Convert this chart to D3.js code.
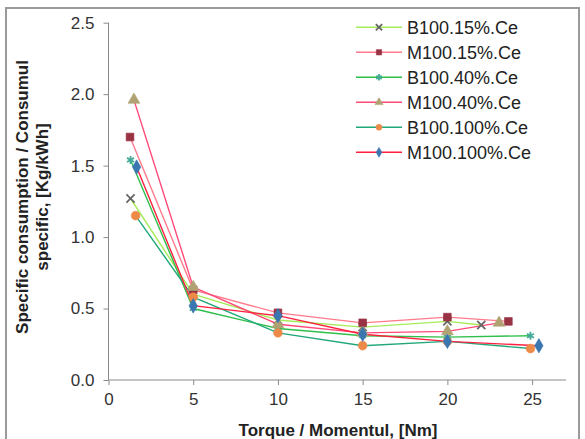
<!DOCTYPE html>
<html>
<head>
<meta charset="utf-8">
<script src="https://cdn.jsdelivr.net/npm/d3@7"></script>
<style>
  body { margin: 0; background: #fff; }
  text { font-family: "Liberation Sans", Arial, sans-serif; fill: #222; }
  .axis path, .axis line { stroke: #8a8a8a; }
  .axis text { font-size: 17px; fill: #333; }
  .title { font-weight: bold; font-size: 17px; }
  .legend text { font-size: 18px; }
</style>
</head>
<body>
<script>
// Series names and values (torque in Nm, specific consumption in Kg/kWh)
var names = ["B100.15%.Ce", "M100.15%.Ce", "B100.40%.Ce", "M100.40%.Ce", "B100.100%.Ce", "M100.100%.Ce"];

var torqueB15 = [1.3, 5, 10, 15, 20, 22.0];
var consB15 = [1.27, 0.60, 0.42, 0.37, 0.41, 0.385];

var torqueM15 = [1.27, 5, 10, 15, 20, 23.6];
var consM15 = [1.70, 0.63, 0.47, 0.40, 0.44, 0.41];

var torqueB40 = [1.3, 5, 10, 15, 20, 24.9];
var consB40 = [1.54, 0.50, 0.36, 0.31, 0.30, 0.31];

var torqueM40 = [1.5, 5, 10, 15, 20, 23.05];
var consM40 = [1.96, 0.65, 0.39, 0.33, 0.34, 0.40];

var torqueB100 = [1.6, 5, 10, 15, 20, 24.9];
var consB100 = [1.15, 0.58, 0.33, 0.24, 0.27, 0.22];

var torqueM100 = [1.66, 5, 10, 15, 20, 25.4];
var consM100 = [1.49, 0.52, 0.45, 0.32, 0.27, 0.24];

var xTicks = [0, 5, 10, 15, 20, 25];
var yTicks = [0, 0.5, 1.0, 1.5, 2.0, 2.5];

// Look of each series (line colour, marker shape, marker colour)
var lineColors = ["#a6ec5a", "#ff7a8c", "#2fbf4a", "#ff4a78", "#20a878", "#ff2040"];
var markerColors = ["#666666", "#993344", "#44aa99", "#b0a272", "#ee8a48", "#3a76b0"];
var markerTypes = [d3.symbolX, d3.symbolSquare, d3.symbolAsterisk, d3.symbolTriangle, d3.symbolCircle, d3.symbolDiamond];

var allX = [torqueB15, torqueM15, torqueB40, torqueM40, torqueB100, torqueM100];
var allY = [consB15, consM15, consB40, consM40, consB100, consM100];

var series = names.map(function(n, i) {
  return {
    name: n,
    values: allX[i].map(function(x, j) { return {x: x, y: allY[i][j]}; }),
    line: lineColors[i],
    marker: markerColors[i],
    type: markerTypes[i]
  };
});

var W = 585, H = 439;
var margin = {top: 22.7, right: 19, bottom: 59, left: 108.5},
    width = W - margin.left - margin.right,
    height = H - margin.top - margin.bottom;

var xScale = d3.scaleLinear().domain([0, 27]).range([0, width]);
var yScale = d3.scaleLinear().domain([0, 2.5]).range([height, 0]);

var svg = d3.select("body").append("svg")
    .attr("width", W)
    .attr("height", H);

// Outer frame
svg.append("rect")
    .attr("x", 6).attr("y", 8)
    .attr("width", 573).attr("height", 440)
    .attr("fill", "none")
    .attr("stroke", "#9a9a9a")
    .attr("stroke-width", 2);

var g = svg.append("g")
    .attr("transform", "translate(" + margin.left + "," + margin.top + ")");

var xAxis = d3.axisBottom(xScale).tickValues(xTicks).tickSize(5).tickPadding(8)
    .tickFormat(d3.format("d"));
var yAxis = d3.axisLeft(yScale).tickValues(yTicks).tickSize(5).tickPadding(9)
    .tickFormat(d3.format(".1f"));

g.append("g")
    .attr("class", "x axis")
    .attr("transform", "translate(0," + height + ")")
    .call(xAxis)
    .call(function(s) { s.select(".domain").attr("d", "M0,0H" + width); });

g.append("g")
    .attr("class", "y axis")
    .call(yAxis)
    .call(function(s) { s.select(".domain").attr("d", "M0,0V" + height); });

// Axis titles
svg.append("text")
    .attr("class", "title")
    .attr("x", 338)
    .attr("y", 436)
    .attr("text-anchor", "middle")
    .text("Torque / Momentul,  [Nm]");

var yTitle = svg.append("text")
    .attr("class", "title")
    .attr("transform", "translate(28,197) rotate(-90)")
    .attr("text-anchor", "middle");
yTitle.append("tspan").attr("x", 0).attr("dy", 0).text("Specific consumption / Consumul");
yTitle.append("tspan").attr("x", 0).attr("dy", 20).text("specific, [Kg/kWh]");

// Lines
var line = d3.line()
    .x(function(d) { return xScale(d.x); })
    .y(function(d) { return yScale(d.y); });

g.selectAll(".line")
    .data(series)
  .enter().append("path")
    .attr("class", "line")
    .attr("d", function(d) { return line(d.values); })
    .attr("fill", "none")
    .attr("stroke", function(d) { return d.line; })
    .attr("stroke-width", 1.4);

function drawMarker(sel, s, size) {
  var stroke = s.type === d3.symbolX || s.type === d3.symbolAsterisk;
  sel.attr("d", d3.symbol().type(s.type).size(size))
    .attr("fill", stroke ? "none" : s.marker)
    .attr("stroke", s.marker)
    .attr("stroke-width", stroke ? 1.8 : 0.6);
}

series.forEach(function(s) {
  g.selectAll(null)
      .data(s.values)
    .enter().append("path")
      .attr("transform", function(d) { return "translate(" + xScale(d.x) + "," + yScale(d.y) + ")"; })
      .call(drawMarker, s, s.type === d3.symbolX || s.type === d3.symbolAsterisk ? 45 : 60);
});

// Legend
var legend = svg.append("g").attr("class", "legend");
var rows = legend.selectAll("g")
    .data(series)
  .enter().append("g")
    .attr("transform", function(d, i) { return "translate(356," + (27.3 + i * 25) + ")"; });

rows.append("line")
    .attr("x1", 0).attr("x2", 46)
    .attr("stroke", function(d) { return d.line; })
    .attr("stroke-width", 1.4);

rows.append("path")
    .attr("transform", "translate(23,0)")
    .each(function(d) { d3.select(this).call(drawMarker, d, 28); });

rows.append("text")
    .attr("x", 51)
    .attr("dy", "0.35em")
    .text(function(d) { return d.name; });
</script>
</body>
</html>
